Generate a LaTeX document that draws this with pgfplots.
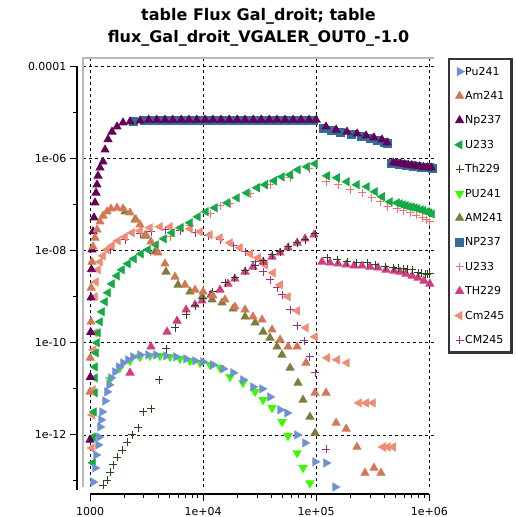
\documentclass[border=0pt]{standalone}
\usepackage{fontspec}
\setmainfont{DejaVu Sans}
\usepackage{pgfplots}
\pgfplotsset{compat=1.18}

\definecolor{cPu}{RGB}{110,145,210}
\definecolor{cAm}{RGB}{210,120,85}
\definecolor{cNp}{RGB}{100,0,90}
\definecolor{cU}{RGB}{20,170,70}
\definecolor{cTh}{RGB}{45,70,25}
\definecolor{cPU}{RGB}{60,250,0}
\definecolor{cAM}{RGB}{125,125,60}
\definecolor{cNP}{RGB}{50,110,150}
\definecolor{cUU}{RGB}{255,110,110}
\definecolor{cTH}{RGB}{210,60,130}
\definecolor{cCm}{RGB}{240,140,115}
\definecolor{cCM}{RGB}{150,50,150}

\pgfplotsset{
  mk/.style={only marks, line width=0.9pt,
    legend image code/.code={\draw[##1, only marks] plot coordinates {(6pt,0pt)};}},
  tri/.style={mk, mark=triangle*, mark size=4.5pt, mark options={draw=#1, fill=#1}},
  tril/.style={mk, mark=triangle*, mark size=4.5pt, mark options={draw=#1, fill=#1, rotate=90}},
  trir/.style={mk, mark=triangle*, mark size=4.5pt, mark options={draw=#1, fill=#1, rotate=-90}},
  trid/.style={mk, mark=triangle*, mark size=4.5pt, mark options={draw=#1, fill=#1, rotate=180}},
  sq/.style={mk, mark=square*, mark size=4pt, mark options={draw=#1, fill=#1}},
  pl/.style={mk, mark=+, mark size=4pt, mark options={draw=#1, line width=0.9pt}},
}

\begin{document}
\begin{tikzpicture}
\begin{axis}[
  scale only axis, width=351pt, height=429pt,
  xmode=log, ymode=log,
  xmin=867, xmax=1.1e6, ymin=7.4e-14, ymax=1.52e-4,
  axis x line*=bottom, axis y line*=left,
  axis x line shift=7pt, axis y line shift=6pt,
  axis line style={draw=none},
  tick align=outside,
  major tick length=7pt, minor tick length=4pt,
  tick style={black, line width=1pt},
  xtick={1000,1e4,1e5,1e6}, xticklabels={1000,1e+04,1e+05,1e+06},
  minor xtick={2000,3000,4000,5000,6000,7000,8000,9000,2e4,3e4,4e4,5e4,6e4,7e4,8e4,9e4,2e5,3e5,4e5,5e5,6e5,7e5,8e5,9e5},
  ytick={1e-12,1e-10,1e-8,1e-6,1e-4}, yticklabels={1e-12,1e-10,1e-08,1e-06,0.0001},
  minor ytick={1e-13,1e-11,1e-9,1e-7,1e-5},
  tick label style={font=\fontsize{11}{13}\selectfont},
  xticklabel style={yshift=-3pt},
  grid=major, major grid style={black, dashed, line width=0.8pt},
  title={table Flux Gal\_droit; table\\flux\_Gal\_droit\_VGALER\_OUT0\_-1.0},
  title style={font=\bfseries\fontsize{16}{21.7}\selectfont, align=center,
    at={(0.5,1)}, anchor=south, yshift=6pt, inner sep=0pt},
  reverse legend,
  legend cell align=left,
  legend style={at={(1,1)}, anchor=north west, xshift=14pt,
    draw=black!80, line width=2.2pt, fill=white,
    font=\fontsize{11}{13}\selectfont,
    inner xsep=6pt, inner ysep=7pt, row sep=13.4pt,
    nodes={inner sep=1pt, text height=8pt, text depth=1pt},
    /tikz/every even column/.append style={column sep=6pt}},
  legend image post style={line width=0.9pt},
]
\coordinate (bl) at (rel axis cs:0,0);
\coordinate (tr) at (rel axis cs:1,1);
\coordinate (xa) at (axis cs:1000,7.4e-14);
\coordinate (xb) at (axis cs:1e6,7.4e-14);
\coordinate (ya) at (axis cs:867,1e-4);

\addplot[pl=cCM] coordinates {(1503,1.05e-8)(2040,1.72e-8)(2768,2.33e-8)(3460,2.57e-8)(4600,2.84e-8)(6250,2.7e-8)(8480,2.45e-8)(1.105e4,2.1e-8)(1.41e4,1.72e-8)(1.84e4,1.28e-8)(2.35e4,9.45e-9)(2.88e4,5.7e-9)(3.39e4,3.47e-9)(3.9e4,2.33e-9)(4.5e4,1.56e-9)(4.98e4,1.1e-9)(5.87e4,5.2e-10)(6.78e4,2.34e-10)(7.8e4,1.1e-10)(8.8e4,4.95e-11)(9.76e4,2.23e-11)(1.22e5,4.95e-13)};
\addlegendentry{CM245}
\addplot[tril=cCm] coordinates {(1040,5.2e-13)(1050,2.72e-12)(1063,9.5e-12)(1075,7.0e-11)(1107,1.65e-10)(1107,1.0e-9)(1130,2.1e-9)(1177,3.84e-9)(1226,5.7e-9)(1303,7.7e-9)(1413,1.05e-8)(1565,1.28e-8)(1768,1.64e-8)(2040,2.0e-8)(2352,2.45e-8)(2768,2.7e-8)(3394,3.14e-8)(4160,3.3e-8)(5100,3.3e-8)(6250,3.14e-8)(7660,2.99e-8)(9390,2.57e-8)(1.15e4,2.21e-8)(1.41e4,1.9e-8)(1.73e4,1.48e-8)(2.12e4,1.16e-8)(2.6e4,8.5e-9)(3.06e4,7.0e-9)(3.53e4,4.93e-9)(4.15e4,3.3e-9)(4.79e4,1.81e-9)(5.63e4,1.0e-9)(6.78e4,4.95e-10)(8.12e4,2.12e-10)(9.76e4,1.35e-10)(1.25e5,4.7e-11)(1.53e5,4.27e-11)(1.87e5,3.67e-11)(2.39e5,4.95e-12)(2.76e5,4.95e-12)(3.18e5,4.95e-12)(3.9e5,5.47e-13)(4.3e5,5.47e-13)(4.78e5,5.47e-13)};
\addlegendentry{Cm245}
\addplot[tri=cTH] coordinates {(2258,2.23e-11)(3460,8.2e-11)(4795,1.73e-10)(5878,3.0e-10)(7070,5.2e-10)(8480,6.68e-10)(9780,8.17e-10)(1.175e4,1.1e-9)(1.41e4,1.41e-9)(1.66e4,1.9e-9)(1.91e4,2.45e-9)(2.35e4,3.47e-9)(2.76e4,4.46e-9)(3.39e4,5.7e-9)(4.07e4,7.35e-9)(4.79e4,9.0e-9)(5.63e4,1.16e-8)(6.78e4,1.48e-8)(7.96e4,1.81e-8)(9.56e4,2.21e-8)(1.125e5,5.7e-9)(1.324e5,5.45e-9)(1.56e5,5.2e-9)(1.84e5,4.93e-9)(2.16e5,4.7e-9)(2.54e5,4.7e-9)(2.99e5,4.46e-9)(3.52e5,4.25e-9)(4.14e5,3.84e-9)(4.88e5,3.65e-9)(5.51e5,3.47e-9)(6.22e5,3.14e-9)(7.04e5,2.84e-9)(7.94e5,2.57e-9)(8.97e5,2.21e-9)(1.01e6,1.9e-9)};
\addlegendentry{TH229}
\addplot[pl=cUU] coordinates {(3394,9.4e-9)(5100,2.0e-8)(7660,3.47e-8)(1.15e4,6.3e-8)(1.41e4,9.5e-8)(1.73e4,1.04e-7)(2.6e4,1.72e-7)(3.9e4,2.7e-7)(5.87e4,3.82e-7)(8.65e4,6.0e-7)(1.22e5,3.13e-7)(1.56e5,2.7e-7)(1.99e5,2.1e-7)(2.54e5,1.8e-7)(3.1e5,1.4e-7)(3.67e5,1.15e-7)(4.3e5,9.0e-8)(5.18e5,8.1e-8)(5.9e5,7.4e-8)(6.75e5,6.65e-8)(7.7e5,5.9e-8)(8.78e5,5.2e-8)(9.4e5,4.7e-8)(1.01e6,4.25e-8)};
\addlegendentry{U233}
\addplot[sq=cNP] coordinates {(2400,6.5e-6)(3000,6.8e-6)(3600,6.8e-6)(4250,6.8e-6)(5000,6.8e-6)(5900,6.8e-6)(6950,6.8e-6)(8150,6.8e-6)(9600,6.8e-6)(1.13e4,6.8e-6)(1.33e4,6.8e-6)(1.57e4,6.8e-6)(1.85e4,6.8e-6)(2.17e4,6.8e-6)(2.55e4,6.8e-6)(3.0e4,6.8e-6)(3.55e4,6.8e-6)(4.2e4,6.8e-6)(4.9e4,6.8e-6)(5.8e4,6.8e-6)(6.8e4,6.8e-6)(8.0e4,6.8e-6)(9.4e4,6.8e-6)(1.16e5,4.6e-6)(1.35e5,4.1e-6)(1.65e5,3.7e-6)(2.05e5,3.3e-6)(2.5e5,3.0e-6)(3.0e5,2.75e-6)(3.5e5,2.5e-6)(4.0e5,2.25e-6)(4.3e5,2.1e-6)(4.6e5,8.0e-7)(5.0e5,7.8e-7)(5.4e5,7.6e-7)(5.8e5,7.4e-7)(6.3e5,7.2e-7)(6.8e5,7.0e-7)(7.3e5,6.8e-7)(7.9e5,6.6e-7)(8.5e5,6.5e-7)(9.2e5,6.4e-7)(1.0e6,6.3e-7)(1.07e6,6.2e-7)};
\addlegendentry{NP237}
\addplot[tri=cAM] coordinates {(2040,7.0e-8)(2500,4.7e-8)(3060,2.1e-8)(3760,9.45e-9)(4700,3.47e-9)(6000,1.81e-9)(7660,1.28e-9)(9800,1.0e-9)(1.2e4,8.6e-10)(1.47e4,7.4e-10)(1.84e4,5.47e-10)(2.35e4,3.67e-10)(2.88e4,2.72e-10)(3.39e4,1.73e-10)(3.9e4,1.28e-10)(4.5e4,8.2e-11)(4.98e4,5.47e-11)(5.87e4,2.86e-11)(6.9e4,1.35e-11)(7.65e4,5.75e-12)(8.8e4,2.46e-12)(9.76e4,1.1e-12)};
\addlegendentry{AM241}
\addplot[trid=cPU] coordinates {(1503,1.57e-11)(1840,2.86e-11)(2258,4.05e-11)(2768,4.95e-11)(3394,5.2e-11)(4160,5.2e-11)(5100,4.95e-11)(6250,4.48e-11)(7660,4.05e-11)(9390,3.67e-11)(1.15e4,3.32e-11)(1.41e4,2.86e-11)(1.73e4,1.82e-11)(2.25e4,1.35e-11)(2.88e4,8.6e-12)(3.39e4,5.75e-12)(4.07e4,3.86e-12)(4.99e4,1.92e-12)(5.63e4,9.5e-13)(6.78e4,4.05e-13)(7.65e4,1.92e-13)(8.8e4,9.0e-14)};
\addlegendentry{PU241}
\addplot[pl=cTh] coordinates {(1303,8.2e-14)(1413,1.05e-13)(1503,1.57e-13)(1597,2.23e-13)(1733,3.32e-13)(1919,4.7e-13)(2124,7.0e-13)(2352,1.0e-12)(2657,1.42e-12)(2942,3.16e-12)(3460,3.67e-12)(4075,1.57e-11)(4700,7.4e-11)(5640,2.12e-10)(7070,4.05e-10)(8480,6.37e-10)(1.0e4,9.0e-10)(1.22e4,1.28e-9)(1.56e4,2.0e-9)(1.91e4,2.57e-9)(2.35e4,3.65e-9)(2.88e4,4.7e-9)(3.39e4,6.0e-9)(4.07e4,8.1e-9)(4.79e4,9.45e-9)(5.63e4,1.22e-8)(6.78e4,1.48e-8)(7.96e4,1.72e-8)(9.76e4,2.33e-8)(1.25e5,7.0e-9)(1.53e5,6.3e-9)(1.87e5,5.7e-9)(2.29e5,5.45e-9)(2.81e5,5.45e-9)(3.31e5,4.93e-9)(4.06e5,4.46e-9)(4.78e5,4.25e-9)(5.3e5,4.1e-9)(5.85e5,4.04e-9)(6.4e5,3.9e-9)(7.04e5,3.84e-9)(7.94e5,3.3e-9)(8.5e5,3.2e-9)(9.16e5,3.14e-9)(9.6e5,3.1e-9)(1.01e6,3.14e-9)};
\addlegendentry{Th229}
\addplot[tril=cU] coordinates {(1063,2.46e-13)(1063,9.0e-13)(1085,3.16e-12)(1107,8.2e-12)(1107,1.73e-11)(1107,3.0e-11)(1130,6.05e-11)(1153,1.0e-10)(1177,1.65e-10)(1226,2.86e-10)(1277,4.7e-10)(1357,7.8e-10)(1443,1.22e-9)(1565,1.9e-9)(1733,2.84e-9)(1919,3.84e-9)(2168,5.2e-9)(2450,6.65e-9)(2825,8.5e-9)(3259,1.05e-8)(3835,1.34e-8)(4510,1.81e-8)(5310,2.45e-8)(6370,3.14e-8)(7660,4.03e-8)(9000,5.45e-8)(1.06e4,7.0e-8)(1.27e4,8.5e-8)(1.63e4,1.09e-7)(1.99e4,1.4e-7)(2.44e4,1.8e-7)(3.0e4,2.32e-7)(3.53e4,2.7e-7)(4.24e4,3.29e-7)(4.98e4,4.0e-7)(5.87e4,4.44e-7)(6.9e4,5.7e-7)(8.29e4,6.63e-7)(9.76e4,7.7e-7)(1.25e5,4.22e-7)(1.53e5,3.82e-7)(1.87e5,3.13e-7)(2.29e5,2.7e-7)(2.81e5,2.44e-7)(3.31e5,1.9e-7)(3.82e5,1.48e-7)(4.49e5,1.15e-7)(5.18e5,1.09e-7)(5.5e5,1.04e-7)(5.85e5,9.9e-8)(6.2e5,9.5e-8)(6.61e5,9.0e-8)(7.0e5,8.8e-8)(7.47e5,8.5e-8)(7.9e5,8.1e-8)(8.44e5,7.7e-8)(8.9e5,7.4e-8)(9.54e5,7.0e-8)(1.0e6,6.6e-8)(1.056e6,6.3e-8)};
\addlegendentry{U233}
\addplot[tri=cNp] coordinates {(1000,7.8e-13)(1008,1.8e-11)(1015,1.7e-10)(1021,9.5e-10)(1030,3.9e-9)(1041,1.05e-8)(1063,2.6e-8)(1085,5.2e-8)(1107,1.1e-7)(1130,1.8e-7)(1153,2.7e-7)(1177,4.2e-7)(1226,6.3e-7)(1303,8.5e-7)(1358,1.55e-6)(1443,2.6e-6)(1565,3.8e-6)(1733,4.9e-6)(1958,6.0e-6)(2258,6.3e-6)(2768,6.6e-6)(3300,6.9e-6)(3900,6.9e-6)(4600,6.9e-6)(5400,6.9e-6)(6400,6.9e-6)(7500,6.9e-6)(8800,6.9e-6)(1.04e4,6.9e-6)(1.22e4,6.9e-6)(1.44e4,6.9e-6)(1.7e4,6.9e-6)(2.0e4,6.9e-6)(2.35e4,6.9e-6)(2.77e4,6.9e-6)(3.26e4,6.9e-6)(3.84e4,6.9e-6)(4.5e4,6.9e-6)(5.3e4,6.9e-6)(6.25e4,6.9e-6)(7.35e4,6.9e-6)(8.65e4,6.9e-6)(1.0e5,6.9e-6)(1.22e5,4.9e-6)(1.5e5,4.2e-6)(1.87e5,3.8e-6)(2.3e5,3.46e-6)(2.76e5,3.13e-6)(3.24e5,2.83e-6)(3.82e5,2.56e-6)(4.23e5,2.2e-6)(4.8e5,8.1e-7)(5.2e5,7.9e-7)(5.6e5,7.7e-7)(6.0e5,7.5e-7)(6.5e5,7.3e-7)(7.0e5,7.1e-7)(7.6e5,6.9e-7)(8.2e5,6.7e-7)(8.9e5,6.5e-7)(9.6e5,6.4e-7)(1.04e6,6.3e-7)};
\addlegendentry{Np237}
\addplot[tri=cAm] coordinates {(1000,8.6e-12)(1005,4.7e-11)(1021,2.86e-10)(1025,1.56e-9)(1041,5.7e-9)(1063,1.22e-8)(1107,1.9e-8)(1153,2.84e-8)(1226,4.25e-8)(1303,5.7e-8)(1413,7.0e-8)(1533,8.1e-8)(1733,8.5e-8)(1958,8.1e-8)(2258,6.65e-8)(2550,4.7e-8)(2768,3.65e-8)(3125,2.2e-8)(3460,1.56e-8)(4000,9.0e-9)(4600,5.2e-9)(5640,2.7e-9)(6910,1.81e-9)(8480,1.41e-9)(1.0e4,1.28e-9)(1.22e4,1.05e-9)(1.56e4,8.6e-10)(1.91e4,6.05e-10)(2.35e4,5.2e-10)(2.76e4,3.67e-10)(3.32e4,3.16e-10)(4.07e4,1.92e-10)(4.79e4,1.16e-10)(5.63e4,8.2e-11)(6.78e4,8.2e-11)(8.12e4,3.67e-11)(9.76e4,8.2e-12)(1.22e5,8.2e-12)(1.5e5,1.82e-12)(1.84e5,1.35e-12)(2.29e5,5.47e-13)(2.7e5,1.49e-13)(3.24e5,1.92e-13)(3.74e5,1.49e-13)};
\addlegendentry{Am241}
\addplot[trir=cPu] coordinates {(1063,9.5e-14)(1107,1.92e-13)(1130,3.67e-13)(1177,6.05e-13)(1200,9.0e-13)(1226,1.49e-12)(1251,2.12e-12)(1277,3.16e-12)(1357,5.47e-12)(1413,8.6e-12)(1472,1.22e-11)(1533,1.73e-11)(1663,2.34e-11)(1804,3.0e-11)(1958,3.67e-11)(2168,4.27e-11)(2400,4.95e-11)(2768,5.47e-11)(3259,5.47e-11)(3835,5.47e-11)(4700,5.2e-11)(5770,4.95e-11)(7070,4.48e-11)(8480,4.05e-11)(9980,3.86e-11)(1.22e4,3.32e-11)(1.5e4,2.72e-11)(1.84e4,2.23e-11)(2.25e4,1.57e-11)(2.76e4,1.1e-11)(3.32e4,1.0e-11)(3.9e4,6.68e-12)(4.79e4,3.5e-12)(5.52e4,3.0e-12)(6.78e4,1.0e-12)(7.96e4,6.7e-13)(9.77e4,2.6e-13)(1.22e5,2.46e-13)(1.47e5,7.4e-14)};
\addlegendentry{Pu241}
\end{axis}
\draw[gray!55, line width=1.5pt] (bl) -- (bl |- tr) -- (tr);
\draw[line width=1.2pt] ([yshift=-7pt]xa) -- ([yshift=-7pt]xb);
\draw[line width=1.2pt] ([xshift=-6pt]ya) -- ([xshift=-6pt,yshift=-3pt]bl -| ya);
\pgfresetboundingbox
\path[use as bounding box] ([xshift=-83pt,yshift=-30pt]bl) rectangle ([xshift=82pt,yshift=58pt]tr);
\end{tikzpicture}
\end{document}
